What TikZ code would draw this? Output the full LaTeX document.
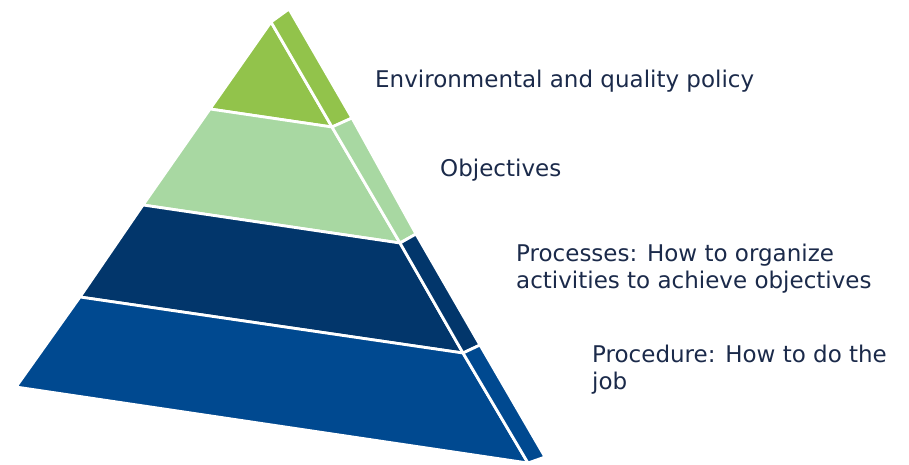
\documentclass[tikz,border=0pt]{standalone}
\usepackage{fontspec}
\setmainfont{DejaVu Sans}
\definecolor{policygreen}{RGB}{146,195,75}
\definecolor{objgreen}{RGB}{168,216,162}
\definecolor{procnavy}{RGB}{2,54,107}
\definecolor{jobblue}{RGB}{0,73,144}
\definecolor{labeltext}{RGB}{27,42,74}

\begin{document}
\begin{tikzpicture}[x=1pt, y=-1pt,
  layer/.style={draw=white, line width=2.8pt, line join=round},
  lbl/.style={anchor=base west, inner sep=0pt, text=labeltext, align=left,
    font=\fontsize{23}{27}\selectfont}]
\useasboundingbox (0,0) rectangle (909,465);
% front face points
\coordinate (A) at (271,22);
\coordinate (L1) at (210,109);
\coordinate (R1) at (332,127);
\coordinate (L2) at (143,205);
\coordinate (R2) at (400,243);
\coordinate (L3) at (80,297);
\coordinate (R3) at (463,353);
\coordinate (L4) at (16,387);
\coordinate (R4) at (528,463);
% side face points
\coordinate (S0) at (289,9);
\coordinate (S1) at (352,118);
\coordinate (S2) at (416,234);
\coordinate (S3) at (480,345);
\coordinate (S4) at (545,457);

\fill[layer, fill=policygreen] (A) -- (R1) -- (L1) -- cycle;
\fill[layer, fill=objgreen] (L1) -- (R1) -- (R2) -- (L2) -- cycle;
\fill[layer, fill=procnavy] (L2) -- (R2) -- (R3) -- (L3) -- cycle;
\fill[layer, fill=jobblue] (L3) -- (R3) -- (R4) -- (L4) -- cycle;

\fill[layer, fill=policygreen] (A) -- (S0) -- (S1) -- (R1) -- cycle;
\fill[layer, fill=objgreen] (R1) -- (S1) -- (S2) -- (R2) -- cycle;
\fill[layer, fill=procnavy] (R2) -- (S2) -- (S3) -- (R3) -- cycle;
\fill[layer, fill=jobblue] (R3) -- (S3) -- (S4) -- (R4) -- cycle;

% base anchor of a two-line label is its last line
\node[lbl] (policy) at (375,88) {Environmental and quality policy};
\node[lbl] (objectives) at (440,176) {Objectives};
\node[lbl] (processes) at (516,288) {Processes: How to organize\\activities to achieve objectives};
\node[lbl] (procedure) at (592,389) {Procedure: How to do the\\job};
\end{tikzpicture}
\end{document}
